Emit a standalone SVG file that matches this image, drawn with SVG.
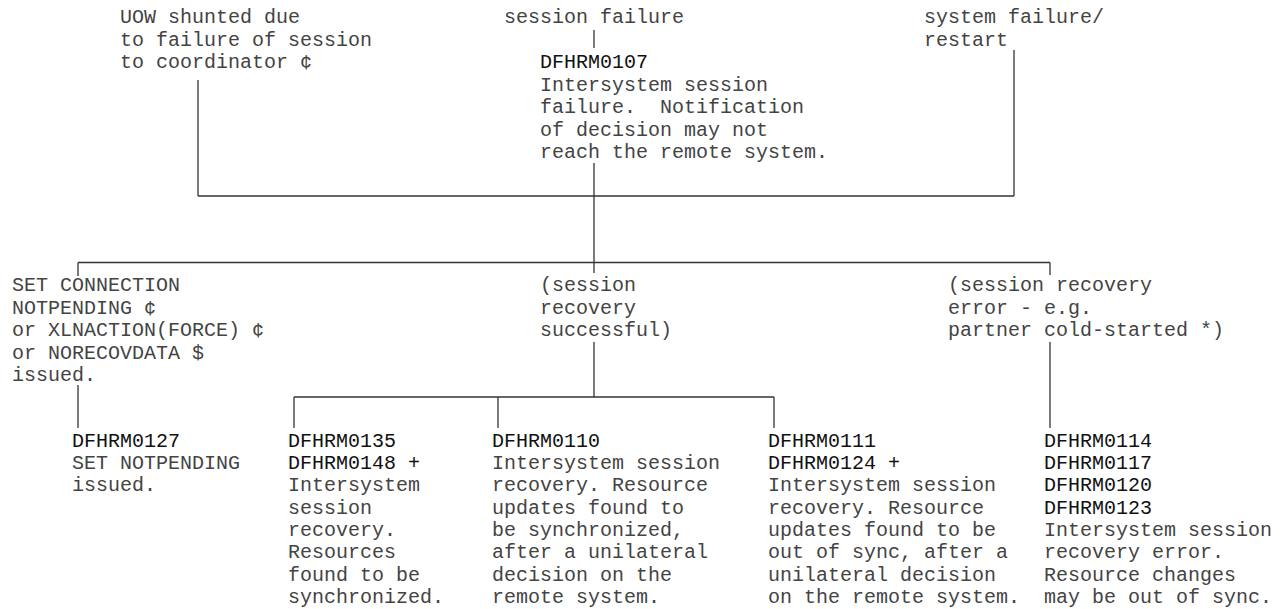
<svg xmlns="http://www.w3.org/2000/svg" width="1286" height="609" viewBox="0 0 1286 609">
<style>
text{font-family:"Liberation Mono","DejaVu Sans Mono",monospace;font-size:20px;fill:#444;white-space:pre;}
.id{fill:#111;}
.c line{stroke:#333;stroke-width:1.3;fill:none;}
</style>
<rect width="1286" height="609" fill="#fff"/>
<g id="connectors" class="c">
<line x1="198" y1="80" x2="198" y2="196"/>
<line x1="594" y1="30" x2="594" y2="48"/>
<line x1="594" y1="163" x2="594" y2="262.5"/>
<line x1="1014" y1="50" x2="1014" y2="196"/>
<line x1="198" y1="196" x2="1014" y2="196"/>
<line x1="78" y1="262.5" x2="1050" y2="262.5"/>
<line x1="78" y1="262.5" x2="78" y2="276"/>
<line x1="594" y1="262.5" x2="594" y2="273"/>
<line x1="1050" y1="262.5" x2="1050" y2="275"/>
<line x1="78" y1="385" x2="78" y2="428"/>
<line x1="594" y1="342" x2="594" y2="397"/>
<line x1="294" y1="397" x2="774" y2="397"/>
<line x1="294" y1="397" x2="294" y2="428"/>
<line x1="498" y1="397" x2="498" y2="428"/>
<line x1="774" y1="397" x2="774" y2="428"/>
<line x1="1050" y1="342" x2="1050" y2="428"/>
</g>
<g id="uow-shunted">
<text x="120" y="23">UOW shunted due</text>
<text x="120" y="45.5">to failure of session</text>
<text x="120" y="68">to coordinator ¢</text>
</g>
<g id="session-failure">
<text x="504" y="23">session failure</text>
</g>
<g id="system-failure">
<text x="924" y="23">system failure/</text>
<text x="924" y="45.5">restart</text>
</g>
<g id="DFHRM0107">
<text class="id" x="540" y="68">DFHRM0107</text>
<text x="540" y="90.5">Intersystem session</text>
<text x="540" y="113" xml:space="preserve">failure.  Notification</text>
<text x="540" y="135.5">of decision may not</text>
<text x="540" y="158">reach the remote system.</text>
</g>
<g id="set-connection">
<text x="12" y="291">SET CONNECTION</text>
<text x="12" y="313.5">NOTPENDING ¢</text>
<text x="12" y="336">or XLNACTION(FORCE) ¢</text>
<text x="12" y="358.5">or NORECOVDATA $</text>
<text x="12" y="381">issued.</text>
</g>
<g id="recovery-successful">
<text x="540" y="291">(session</text>
<text x="540" y="313.5">recovery</text>
<text x="540" y="336">successful)</text>
</g>
<g id="recovery-error">
<text x="948" y="291">(session recovery</text>
<text x="948" y="313.5">error - e.g.</text>
<text x="948" y="336">partner cold-started *)</text>
</g>
<g id="DFHRM0127">
<text class="id" x="72" y="446.5">DFHRM0127</text>
<text x="72" y="468.9">SET NOTPENDING</text>
<text x="72" y="491.2">issued.</text>
</g>
<g id="DFHRM0135">
<text class="id" x="288" y="446.5">DFHRM0135</text>
<text class="id" x="288" y="468.9">DFHRM0148 +</text>
<text x="288" y="491.2">Intersystem</text>
<text x="288" y="513.6">session</text>
<text x="288" y="535.9">recovery.</text>
<text x="288" y="558.3">Resources</text>
<text x="288" y="580.6">found to be</text>
<text x="288" y="603">synchronized.</text>
</g>
<g id="DFHRM0110">
<text class="id" x="492" y="446.5">DFHRM0110</text>
<text x="492" y="468.9">Intersystem session</text>
<text x="492" y="491.2">recovery. Resource</text>
<text x="492" y="513.6">updates found to</text>
<text x="492" y="535.9">be synchronized,</text>
<text x="492" y="558.3">after a unilateral</text>
<text x="492" y="580.6">decision on the</text>
<text x="492" y="603">remote system.</text>
</g>
<g id="DFHRM0111">
<text class="id" x="768" y="446.5">DFHRM0111</text>
<text class="id" x="768" y="468.9">DFHRM0124 +</text>
<text x="768" y="491.2">Intersystem session</text>
<text x="768" y="513.6">recovery. Resource</text>
<text x="768" y="535.9">updates found to be</text>
<text x="768" y="558.3">out of sync, after a</text>
<text x="768" y="580.6">unilateral decision</text>
<text x="768" y="603">on the remote system.</text>
</g>
<g id="DFHRM0114">
<text class="id" x="1044" y="446.5">DFHRM0114</text>
<text class="id" x="1044" y="468.9">DFHRM0117</text>
<text class="id" x="1044" y="491.2">DFHRM0120</text>
<text class="id" x="1044" y="513.6">DFHRM0123</text>
<text x="1044" y="535.9">Intersystem session</text>
<text x="1044" y="558.3">recovery error.</text>
<text x="1044" y="580.6">Resource changes</text>
<text x="1044" y="603">may be out of sync.</text>
</g>
</svg>
